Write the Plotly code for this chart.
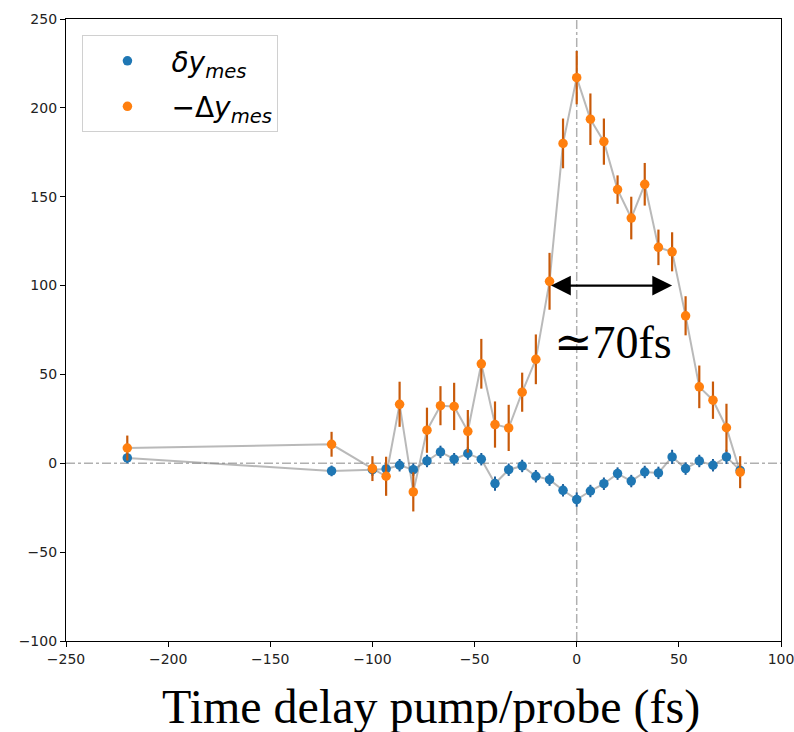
import plotly.graph_objects as go

delay = [-220, -120, -100, -93.3, -86.7, -80, -73.3, -66.7, -60, -53.3, -46.7, -40,
         -33.3, -26.7, -20, -13.3, -6.7, 0, 6.7, 13.3, 20, 26.7, 33.3, 40, 46.7,
         53.3, 60, 66.7, 73.3, 80]
delta_small = [3, -4.3, -3.6, -3.2, -1.1, -3.6, 1.3, 6.4, 2.3, 5.5, 2.3, -11.4,
               -3.6, -1.5, -7.3, -9.2, -15.2, -20.4, -15.6, -11.5, -5.8, -10, -4.9,
               -5.4, 3.6, -3, 1.3, -1.1, 3.6, -4]
delta_small_err = [3, 3, 3.5, 3.5, 3.5, 3.5, 3.5, 3.5, 3.5, 3.5, 3.5, 4, 3.5, 3.5,
                   3.5, 3.5, 3.5, 4, 3.5, 3.5, 3.5, 3.5, 3.5, 3.5, 4, 3.5, 3.5, 3.5, 4, 3.5]
delta_big = [8.6, 10.7, -3, -7.3, 33.2, -16.1, 18.6, 32.4, 32, 18, 56, 21.8, 19.9,
             40, 58.5, 102.4, 180, 217, 193.6, 181, 154, 138, 157, 121.5, 119, 83,
             43, 35.5, 20, -5]
delta_big_err = [7, 7, 7, 11, 12.7, 11, 12.7, 11, 13.3, 12, 14, 13, 13, 11, 14, 16,
                 14, 15, 14.5, 13, 8, 12, 12, 10, 11, 11, 12, 10.5, 13.5, 9]

xticks = [-250, -200, -150, -100, -50, 0, 50, 100]
yticks = [-100, -50, 0, 50, 100, 150, 200, 250]

fig = go.Figure()

# grey connecting lines
for ys in (delta_small, delta_big):
    fig.add_trace(go.Scatter(x=delay, y=ys, mode="lines",
                             line=dict(color="rgba(128,128,128,0.55)", width=2),
                             showlegend=False, hoverinfo="skip"))

fig.add_trace(go.Scatter(
    x=delay, y=delta_small, mode="markers",
    name="<i>δy</i><sub><i>mes</i></sub>", legendgroup="a",
    marker=dict(color="#1f77b4", size=9.5),
    error_y=dict(type="data", array=delta_small_err, color="#1a5c99",
                 thickness=2, width=0),
))
fig.add_trace(go.Scatter(
    x=delay, y=delta_big, mode="markers",
    name="−Δ<i>y</i><sub><i>mes</i></sub>", legendgroup="b",
    marker=dict(color="#ff7f0e", size=9.5),
    error_y=dict(type="data", array=delta_big_err, color="#c85a0a",
                 thickness=2.2, width=0),
))

# reference dash-dot lines
fig.add_shape(type="line", xref="x", yref="y", x0=-250, x1=100, y0=0, y1=0,
              line=dict(color="#b0b0b0", width=1.5, dash="dashdot"), layer="below")
fig.add_shape(type="line", xref="x", yref="y", x0=0, x1=0, y0=-100, y1=250,
              line=dict(color="#b0b0b0", width=1.5, dash="dashdot"), layer="below")

# FWHM arrow
fig.add_annotation(x=46.7, y=100, ax=-13.3, ay=100, xref="x", yref="y",
                   axref="x", ayref="y", text="", showarrow=True,
                   arrowhead=2, arrowside="end+start", arrowsize=1.8,
                   arrowwidth=2.2, arrowcolor="black", standoff=0, startstandoff=0)
fig.add_annotation(x=18, y=68, xref="x", yref="y", text="≃70fs",
                   showarrow=False,
                   font=dict(family="Liberation Serif, DejaVu Serif, serif",
                             size=46, color="black"))

# x-axis title
fig.add_annotation(x=0.5105, y=-0.106, xref="paper", yref="paper",
                   text="Time delay pump/probe (fs)", showarrow=False,
                   yanchor="middle",
                   font=dict(family="Liberation Serif, serif", size=48, color="black"))

axis_common = dict(showgrid=False, zeroline=False, showline=True, mirror=True,
                   linecolor="black", linewidth=1.2, ticks="outside", ticklen=5,
                   tickcolor="black", automargin=False, ticklabeloverflow="allow",
                   tickfont=dict(family="DejaVu Sans", size=14, color="#222"))
fig.update_xaxes(range=[-250, 100], tickvals=xticks, **axis_common)
fig.update_yaxes(range=[-100, 250], tickvals=yticks, **axis_common)

fig.update_layout(
    width=794, height=732,
    margin=dict(l=66, r=13, t=19, b=91, autoexpand=False),
    plot_bgcolor="white", paper_bgcolor="white",
    legend=dict(x=0.023, y=0.974, xanchor="left", yanchor="top",
                bgcolor="white", bordercolor="#d0d0d0", borderwidth=1,
                font=dict(family="DejaVu Sans", size=28, color="black"),
                itemwidth=78, tracegroupgap=6),
    showlegend=True,
)

fig.write_html("out.html")
